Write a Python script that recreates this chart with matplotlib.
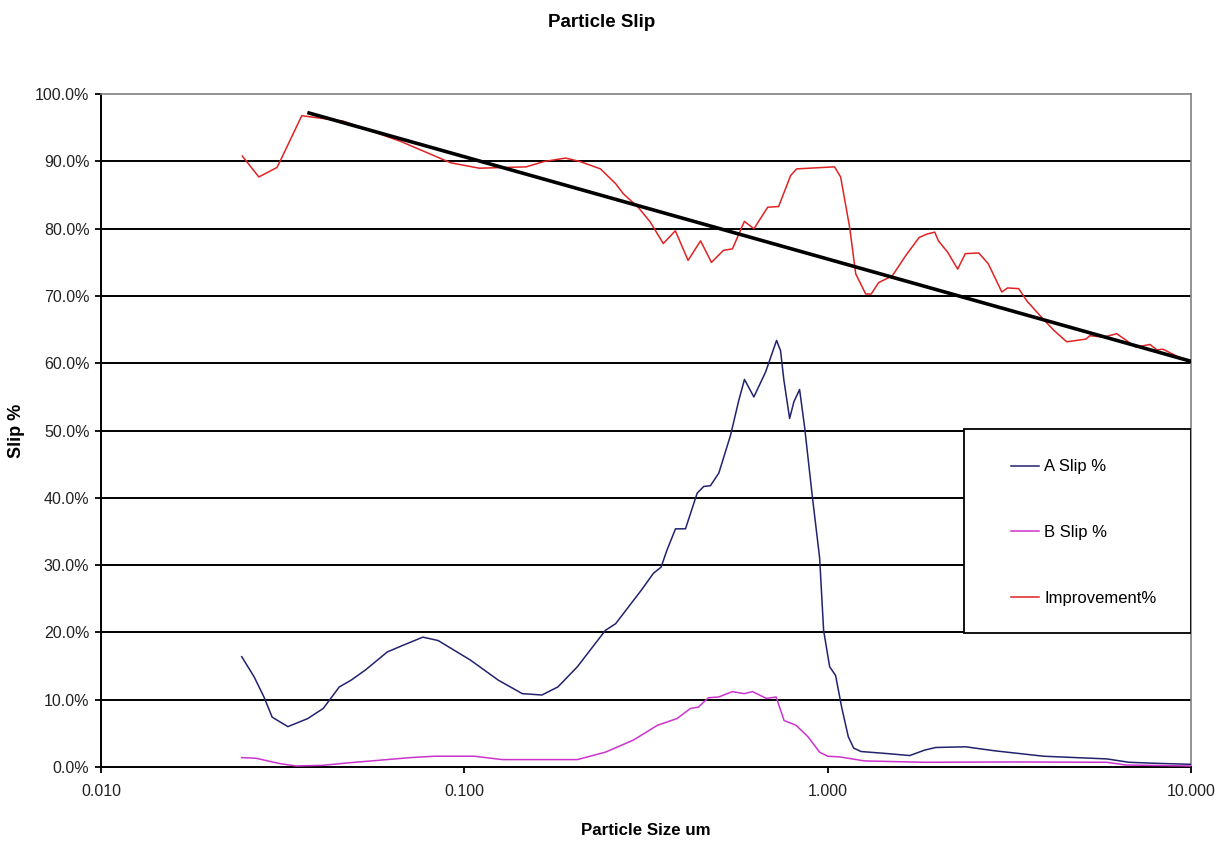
import matplotlib
matplotlib.use("Agg")
import matplotlib.pyplot as plt
from matplotlib.ticker import FixedLocator, FixedFormatter, NullLocator
from matplotlib.patches import Rectangle

plt.rcParams.update({
    "font.family": ["Liberation Sans", "DejaVu Sans"],
    "font.size": 11.5,
    "axes.linewidth": 1.3,
})

# particle size (um) vs slip (%)
size_a = [0.0244, 0.0264, 0.0281, 0.0296, 0.0327, 0.0371, 0.0409, 0.0453, 0.0488, 0.0534,
          0.0614, 0.0679, 0.0769, 0.0847, 0.1039, 0.1241, 0.1445, 0.1636, 0.181, 0.2048,
          0.2445, 0.261, 0.3073, 0.3317, 0.348, 0.3617, 0.3814, 0.4063, 0.4375, 0.4562,
          0.4758, 0.502, 0.5405, 0.5696, 0.5905, 0.6266, 0.6749, 0.7236, 0.742, 0.758,
          0.786, 0.8078, 0.8373, 0.864, 0.9077, 0.9506, 0.975, 1.013, 1.052, 1.093,
          1.14, 1.18, 1.236, 1.454, 1.683, 1.847, 1.984, 2.399, 2.891, 3.93,
          5.87, 6.75, 7.98, 10.0]
slip_a = [16.4, 13.4, 10.4, 7.4, 6.0, 7.2, 8.7, 11.9, 12.9, 14.4,
          17.1, 18.1, 19.3, 18.8, 15.9, 12.9, 10.9, 10.7, 11.9, 14.9,
          20.3, 21.3, 26.3, 28.8, 29.7, 32.3, 35.4, 35.4, 40.7, 41.7,
          41.8, 43.7, 49.3, 54.5, 57.6, 55.0, 58.7, 63.4, 61.9, 57.5,
          51.8, 54.3, 56.1, 50.6, 40.2, 31.1, 20.3, 14.9, 13.6, 8.9,
          4.5, 2.8, 2.3, 2.0, 1.7, 2.5, 2.9, 3.0, 2.4, 1.6,
          1.2, 0.7, 0.55, 0.4]

size_b = [0.0244, 0.0267, 0.0311, 0.0344, 0.0409, 0.0476, 0.0583, 0.0713, 0.0829, 0.1065,
          0.1272, 0.1595, 0.2048, 0.2445, 0.2921, 0.3402, 0.385, 0.4195, 0.441, 0.470,
          0.501, 0.547, 0.590, 0.6215, 0.678, 0.7217, 0.759, 0.8187, 0.883, 0.9506,
          1.0, 1.079, 1.265, 1.847, 3.25, 5.87, 6.61, 10.0]
slip_b = [1.4, 1.3, 0.5, 0.15, 0.25, 0.6, 1.0, 1.4, 1.6, 1.6,
          1.1, 1.1, 1.1, 2.2, 4.0, 6.2, 7.2, 8.7, 8.9, 10.3,
          10.4, 11.2, 10.9, 11.2, 10.2, 10.4, 6.9, 6.2, 4.5, 2.2,
          1.6, 1.5, 0.9, 0.7, 0.75, 0.7, 0.3, 0.15]

size_imp = [0.0245, 0.0272, 0.0305, 0.0311, 0.0357, 0.0464, 0.0667, 0.0918, 0.110, 0.148,
            0.166, 0.190, 0.208, 0.237, 0.261, 0.274, 0.301, 0.325, 0.353, 0.381,
            0.413, 0.447, 0.479, 0.517, 0.547, 0.590, 0.627, 0.684, 0.733, 0.791,
            0.822, 1.045, 1.086, 1.150, 1.195, 1.273, 1.318, 1.382, 1.507, 1.640,
            1.786, 1.874, 1.972, 2.018, 2.141, 2.280, 2.393, 2.606, 2.768, 3.016,
            3.128, 3.357, 3.532, 3.886, 4.195, 4.55, 5.14, 5.27, 5.75, 6.25,
            7.06, 7.71, 8.06, 8.37, 9.12, 10.0]
improvement = [90.8, 87.7, 89.1, 90.0, 96.8, 96.0, 93.0, 89.8, 89.0, 89.2,
               90.0, 90.5, 90.0, 88.9, 86.7, 85.2, 83.2, 81.0, 77.8, 79.7,
               75.3, 78.2, 75.0, 76.8, 77.0, 81.1, 80.0, 83.2, 83.3, 87.9,
               88.9, 89.2, 87.7, 80.2, 73.3, 70.3, 70.3, 72.0, 73.0, 76.0,
               78.7, 79.2, 79.5, 78.2, 76.5, 74.0, 76.3, 76.4, 74.8, 70.6,
               71.2, 71.1, 69.3, 66.8, 64.9, 63.2, 63.6, 64.1, 63.9, 64.4,
               62.4, 62.8, 62.0, 62.1, 61.1, 60.2]

# log trendline of the improvement, first and last point
trend_size = [0.0374, 10.0]
trend_val = [97.2, 60.3]

x_ticks = [0.01, 0.1, 1.0, 10.0]
x_labels = ["0.010", "0.100", "1.000", "10.000"]
y_ticks = [0, 10, 20, 30, 40, 50, 60, 70, 80, 90, 100]
y_labels = ["0.0%", "10.0%", "20.0%", "30.0%", "40.0%", "50.0%",
            "60.0%", "70.0%", "80.0%", "90.0%", "100.0%"]

fig = plt.figure(figsize=(12.25, 8.41), dpi=100)
ax = fig.add_axes([0.0824, 0.088, 0.8898, 0.800])

# horizontal grid, black like the excel default
ax.hlines(y_ticks[1:-1], 0, 1, transform=ax.get_yaxis_transform(),
          color="black", linewidth=1.4, zorder=1)

l_a, = ax.plot(size_a, slip_a, color="#22226e", linewidth=1.1, label="A Slip %", zorder=3)
l_b, = ax.plot(size_b, slip_b, color="#cc33cc", linewidth=1.1, label="B Slip %", zorder=3)
l_i, = ax.plot(size_imp, improvement, color="#e02222", linewidth=1.1, label="Improvement%", zorder=3)
ax.plot(trend_size, trend_val, color="black", linewidth=2.6, zorder=4)

ax.set_xscale("log")
ax.set_xlim(0.01, 10)
ax.set_ylim(0, 100)
ax.xaxis.set_major_locator(FixedLocator(x_ticks))
ax.xaxis.set_major_formatter(FixedFormatter(x_labels))
ax.xaxis.set_minor_locator(NullLocator())
ax.yaxis.set_major_locator(FixedLocator(y_ticks))
ax.yaxis.set_major_formatter(FixedFormatter(y_labels))
ax.tick_params(axis="both", direction="out", length=4.3, width=1.3, color="black",
               labelsize=11.5, labelcolor="#222222")
ax.tick_params(axis="x", pad=8)
ax.tick_params(axis="y", pad=4)

for s in ("top", "right"):
    ax.spines[s].set_color("#808080")
    ax.spines[s].set_linewidth(1.2)
for s in ("left", "bottom"):
    ax.spines[s].set_color("black")
    ax.spines[s].set_linewidth(1.4)

# legend box sits over the grid at the right edge
ax.add_patch(Rectangle((0.7917, 0.199), 0.2083, 0.303, transform=ax.transAxes,
                       facecolor="white", edgecolor="black", linewidth=1.3, zorder=5))
leg = ax.legend(handles=[l_a, l_b, l_i], loc="upper left", bbox_to_anchor=(0.8275, 0.4695),
                frameon=False, borderpad=0, fontsize=12, handlelength=1.68,
                handletextpad=0.3, labelspacing=3.05)
leg.set_zorder(6)

fig.text(0.4914, 0.9727, "Particle Slip", ha="center", va="center",
         fontsize=13.5, fontweight="bold")
fig.text(0.5273, 0.0119, "Particle Size um", ha="center", va="center",
         fontsize=12.2, fontweight="bold")
fig.text(0.0135, 0.488, "Slip %", ha="center", va="center", rotation=90,
         fontsize=13, fontweight="bold")

fig.savefig("out.png", dpi=100, facecolor="white")
